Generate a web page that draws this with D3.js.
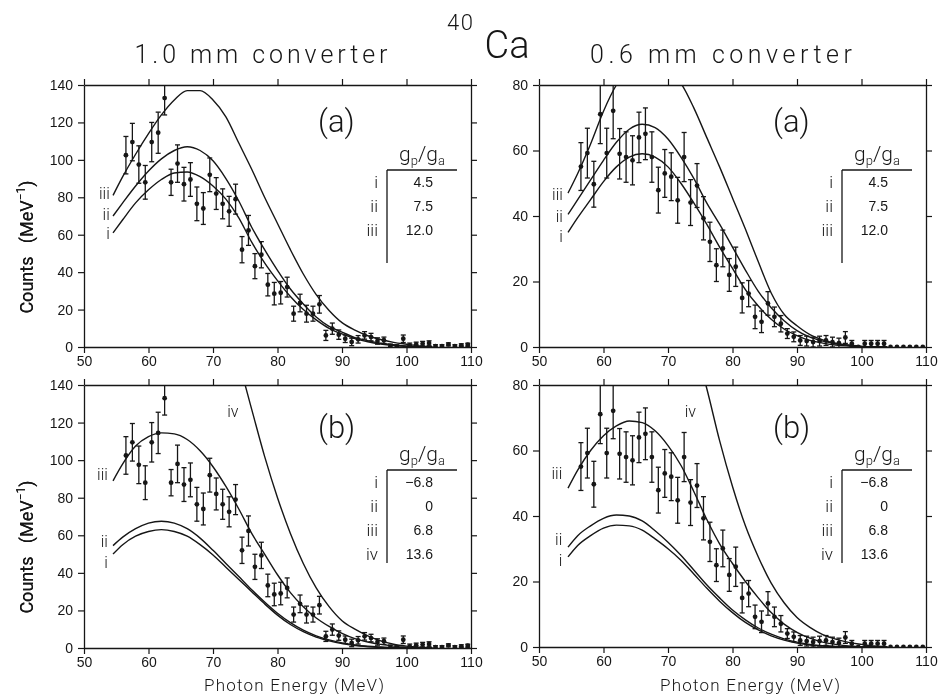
<!DOCTYPE html>
<html><head><meta charset="utf-8">
<script src="https://cdn.jsdelivr.net/npm/d3@7"></script>
<style>body{margin:0;background:#fff;}svg{display:block;filter:grayscale(100%);}</style>
</head><body>
<script>
// ---------- data ----------
const xTicks = [50, 60, 70, 80, 90, 100, 110];
const yTicksWide = [0, 20, 40, 60, 80, 100, 120, 140];
const yTicksNarrow = [0, 20, 40, 60, 80];

// measured bins (MeV)
const binE = [56.5,57.5,58.5,59.5,60.5,61.5,62.5,63.5,64.5,65.5,
  66.5,67.5,68.5,69.5,70.5,71.5,72.5,73.5,74.5,75.5,
  76.5,77.5,78.5,79.5,80.5,81.5,82.5,83.5,84.5,85.5,
  86.5,87.5,88.5,89.5,90.5,91.5,92.5,93.5,94.5,95.5,
  96.5,97.5,98.5,99.5,100.5,101.5,102.5,103.5,104.5,105.5,
  106.5,107.5,108.5,109.5];

// 1.0 mm converter
const counts10 = [102.5,109.5,97.5,88,109.5,114.5,133,88,98,87,
  89.5,76.5,74,92,82,76.5,72.5,79,52,62.3,
  43.2,49.3,33.3,28.5,29,32,17.8,23.5,17.8,17.8,
  22.8,6.2,9.8,6.6,4.4,2.7,4.1,6.2,5.3,3.2,
  3.6,0.4,0,4.4,0.9,1.4,1.8,2.1,0.4,0.4,
  1.4,0.4,0.9,1.2];
const err10 = [10,10,10,9,10.5,11,9,7,10,9,
  9,9,8.5,9,8.5,8,8,8,7,8,
  6.7,7,6,6,6,5.3,4,4.7,4.5,4,
  4.7,2.7,3,2.5,2,2,2,2,2,1.7,
  1.7,1.2,1.2,2,1.2,1.2,1.2,1.2,0.8,0.8,
  0.8,0.8,0.8,0.8];

// 0.6 mm converter
const counts06 = [55.1,59.2,49.7,71.1,59.2,72.1,59,58,57,64,
  65.1,58,47.9,53,52,44.8,58,44.1,49.3,39.3,
  32.1,25,30.1,22,24.5,15,16.3,9.2,7.7,13.3,
  9.2,7.1,4.1,3.1,2,1.8,1.5,1.8,2,1.5,
  1.2,2.9,1,0,1,1,1,1,0,0,
  0,0,0,0];
const err06 = [7.3,7.6,7,9,7.6,8.5,7.7,7.7,7.5,7.7,
  7.9,7.7,7,7.3,7.3,7,7.5,7,6.7,6.6,
  6,5,5.6,5,6,4.6,4,3.6,3.3,3.6,
  3,2.5,1.5,1.5,1.5,1.5,1.5,1.5,1.5,1.5,
  1.5,1.8,1,0,1,1,1,1,0,0,
  0,0,0,0];

// theory curves, sampled at these energies (MeV)
const curveE = [54.5,56,58,60,62,64,66,68,70,72,74,76,78,80,82,84,86,88,90,92,94,96,98,100,102,104];

// 1.0 mm, (a)
const a10_i   = [61,68,77,84,89.5,93,93.5,91,86,79,69,56,45,35.5,27,20,14.5,10,7,4.5,2.8,1.6,0.8,0.3,0.1,0];
const a10_ii  = [70,77,86,94,100.5,105,107,105,99.5,90,78,64,52,41,31,23,16,11,8,5,3.4,2,1.2,0.5,0.2,0];
const a10_iii = [81,91,103,114,124,132,137,137,132,123,109,95,80,66,52,39,28,19.5,13,9,6,4,2.5,1.5,0.6,0.2];
// 0.6 mm, (a)
const a06_i   = [35,39.5,45,50.5,55,58,59,58,55,50,44,37.5,30.5,24,17.5,12.5,8.5,5.5,3.5,2,1.2,0.6,0.3,0.1,0,0];
const a06_ii  = [40.5,45,51,57,62.5,66.5,68,67,63.5,58,51.5,44,37.5,30.5,23.5,17,12,8,5,3,1.8,1,0.5,0.2,0.1,0];
const a06_iii = [47,53,62,72,80,85,87,86,84,80.5,73,64,55,45.5,36,26,16.5,10,6.5,3.8,2.2,1.2,0.6,0.2,0.1,0];
// 1.0 mm, (b)
const b10_i   = [50,55,59.5,62,63,62,59.5,55,49.5,43,36.5,30,23.5,17.5,12.5,8.7,5.8,3.8,2.3,1.3,0.7,0.3,0.1,0,0,0];
const b10_ii  = [54.5,59,63.5,66.5,67.5,66.5,63.5,58.5,52,45,38,31,24.5,18.5,13.5,9.5,6.5,4.3,2.7,1.6,0.9,0.5,0.2,0.1,0,0];
const b10_iii = [89,98,107.5,112.5,114.5,114,111,105,96.5,86,74,61,50,39,29.5,22,16,11.5,7.8,5,3.2,1.9,1,0.4,0.1,0];
const b10_iv  = [150,165,180,192,200,205,205,200,188,172,152,127,102,80,61,45,32,22,14.5,10,6.5,3.8,2,1,0.4,0.1];
// 0.6 mm, (b)
const b06_i   = [27.5,31,34,36.3,37.2,37,35.7,33,30,26.5,22.3,18,14,10.5,7.5,5.2,3.4,2.1,1.2,0.6,0.3,0.1,0,0,0,0];
const b06_ii  = [30.5,34,37,39.3,40.3,40,38.5,35.5,32,28,23.5,19,15,11.3,8.3,5.8,3.9,2.5,1.5,0.8,0.4,0.2,0.1,0,0,0];
const b06_iii = [48.5,54,60,64.5,67.5,69,68.5,66,61.5,55.5,47.5,39,31.5,25.5,20,15,10.5,7,4.5,2.7,1.5,0.8,0.3,0.1,0,0];
const b06_iv  = [95,105,115,122,127,130,130,127,120,109,93,79,63,49,37,27.5,19.5,13.5,9,6,3.8,2.4,1.4,0.8,0.3,0.1];

const numeralsA = ["i", "ii", "iii"];
const ratiosA = ["4.5", "7.5", "12.0"];
const numeralsB = ["i", "ii", "iii", "iv"];
const ratiosB = ["\u22126.8", "0", "6.8", "13.6"];

// ---------- drawing ----------
const W = 938, H = 694;
const lightFont = "Roboto, 'Open Sans', 'DejaVu Sans', sans-serif";
const numFont = "'Liberation Sans', Arial, sans-serif";
const ink = "#161616";

const svg = d3.select("body").append("svg").attr("width", W).attr("height", H);
const defs = svg.append("defs");

const panels = [
  {x0:84, x1:471, y0:85, y1:347, ymax:140, yTicks:yTicksWide, curves:[a10_i,a10_ii,a10_iii],
   counts:counts10, errs:err10, tag:"(a)", tagY:132, numerals:numeralsA, ratios:ratiosA,
   curveLabels:[{t:"iii",e:54,v:79},{t:"ii",e:54,v:68},{t:"i",e:54,v:57.5}]},
  {x0:539, x1:926, y0:85, y1:347, ymax:80, yTicks:yTicksNarrow, curves:[a06_i,a06_ii,a06_iii],
   counts:counts06, errs:err06, tag:"(a)", tagY:132, numerals:numeralsA, ratios:ratiosA,
   curveLabels:[{t:"iii",e:53.7,v:45},{t:"ii",e:53.7,v:38.2},{t:"i",e:53.7,v:32}]},
  {x0:84, x1:471, y0:385, y1:648, ymax:140, yTicks:yTicksWide, curves:[b10_i,b10_ii,b10_iii,b10_iv],
   counts:counts10, errs:err10, tag:"(b)", tagY:438, numerals:numeralsB, ratios:ratiosB,
   curveLabels:[{t:"iii",e:53.7,v:89.4},{t:"ii",e:53.7,v:53.5},{t:"i",e:53.7,v:42.5},{t:"iv",e:72.2,v:123,start:true}]},
  {x0:539, x1:926, y0:385, y1:647, ymax:80, yTicks:yTicksNarrow, curves:[b06_i,b06_ii,b06_iii,b06_iv],
   counts:counts06, errs:err06, tag:"(b)", tagY:438, numerals:numeralsB, ratios:ratiosB,
   curveLabels:[{t:"iii",e:53.6,v:51.3},{t:"ii",e:53.6,v:31},{t:"i",e:53.6,v:24.6},{t:"iv",e:72.6,v:70.2,start:true}]}
];

function styleAxis(sel, showText) {
  sel.select(".domain").attr("stroke", ink).attr("stroke-width", 1.3);
  sel.selectAll(".tick line").attr("stroke", ink).attr("stroke-width", 1.2);
  sel.selectAll(".tick text").attr("fill", ink).attr("font-family", numFont)
     .attr("font-size", 14).style("display", showText ? null : "none");
}

panels.forEach((p, pi) => {
  const x = d3.scaleLinear().domain([50, 110]).range([p.x0, p.x1]);
  const y = d3.scaleLinear().domain([0, p.ymax]).range([p.y1, p.y0]);
  const cid = "clip" + pi;
  defs.append("clipPath").attr("id", cid).append("rect")
    .attr("x", p.x0).attr("y", p.y0).attr("width", p.x1 - p.x0).attr("height", p.y1 - p.y0);

  const g = svg.append("g");
  g.append("g").attr("transform", `translate(0,${p.y1})`)
    .call(d3.axisBottom(x).tickValues(xTicks).tickSize(6).tickSizeOuter(0).tickPadding(3).tickFormat(d3.format("d")))
    .call(s => styleAxis(s, true));
  g.append("g").attr("transform", `translate(0,${p.y0})`)
    .call(d3.axisTop(x).tickValues(xTicks).tickSize(6).tickSizeOuter(0))
    .call(s => styleAxis(s, false));
  g.append("g").attr("transform", `translate(${p.x0},0)`)
    .call(d3.axisLeft(y).tickValues(p.yTicks).tickSize(6).tickSizeOuter(0).tickPadding(5).tickFormat(d3.format("d")))
    .call(s => styleAxis(s, true));
  g.append("g").attr("transform", `translate(${p.x1},0)`)
    .call(d3.axisRight(y).tickValues(p.yTicks).tickSize(6).tickSizeOuter(0))
    .call(s => styleAxis(s, false));

  const plot = g.append("g").attr("clip-path", `url(#${cid})`);
  const line = d3.line().x((d, i) => x(curveE[i])).y(d => y(d)).curve(d3.curveMonotoneX);
  p.curves.forEach(c => {
    plot.append("path").datum(c).attr("d", line)
      .attr("fill", "none").attr("stroke", ink).attr("stroke-width", 1.4);
  });

  const pts = binE.map((e, i) => ({e, v: p.counts[i], s: p.errs[i]}));
  const eb = plot.append("g").attr("stroke", ink).attr("stroke-width", 1.3);
  pts.filter(d => d.s > 0).forEach(d => {
    eb.append("line").attr("x1", x(d.e)).attr("x2", x(d.e)).attr("y1", y(d.v - d.s)).attr("y2", y(d.v + d.s));
    eb.append("line").attr("x1", x(d.e) - 2.5).attr("x2", x(d.e) + 2.5).attr("y1", y(d.v - d.s)).attr("y2", y(d.v - d.s));
    eb.append("line").attr("x1", x(d.e) - 2.5).attr("x2", x(d.e) + 2.5).attr("y1", y(d.v + d.s)).attr("y2", y(d.v + d.s));
  });
  plot.append("g").selectAll("circle").data(pts).join("circle")
    .attr("cx", d => x(d.e)).attr("cy", d => y(d.v)).attr("r", 2.4).attr("fill", ink);

  // curve labels
  p.curveLabels.forEach(l => {
    g.append("text").attr("x", x(l.e)).attr("y", y(l.v))
      .attr("text-anchor", l.start ? "start" : "end")
      .attr("font-family", lightFont).attr("font-weight", 300).attr("font-size", 16).attr("fill", ink)
      .text(l.t);
  });

  // panel tag
  g.append("text").attr("x", p.x0 + 234).attr("y", p.tagY)
    .attr("font-family", lightFont).attr("font-weight", 300).attr("font-size", 31).attr("fill", ink)
    .text(p.tag);

  // legend table
  const lx = p.x0 + 303, ly = p.y0 + 85;
  const gl = g.append("g");
  const gt = gl.append("text").attr("x", lx + 12).attr("y", ly - 9)
    .attr("font-family", lightFont).attr("font-weight", 300).attr("font-size", 21).attr("fill", ink);
  gt.append("tspan").text("g");
  gt.append("tspan").attr("font-size", 13).attr("dy", 4).text("p");
  gt.append("tspan").attr("dy", -4).text("/g");
  gt.append("tspan").attr("font-size", 13).attr("dy", 4).text("a");
  gl.append("line").attr("x1", lx).attr("x2", lx + 70).attr("y1", ly).attr("y2", ly)
    .attr("stroke", ink).attr("stroke-width", 1.3);
  gl.append("line").attr("x1", lx).attr("x2", lx).attr("y1", ly).attr("y2", ly + 93)
    .attr("stroke", ink).attr("stroke-width", 1.3);
  p.numerals.forEach((n, i) => {
    const yy = ly + 18 + i * 24;
    gl.append("text").attr("x", lx - 9).attr("y", yy).attr("text-anchor", "end")
      .attr("font-family", lightFont).attr("font-weight", 300).attr("font-size", 17).attr("fill", ink).text(n);
    gl.append("text").attr("x", lx + 46).attr("y", yy - 1).attr("text-anchor", "end")
      .attr("font-family", numFont).attr("font-size", 14).attr("fill", ink).text(p.ratios[i]);
  });

  // y axis title
  const yt = g.append("text")
    .attr("transform", `translate(33,${p.y0 + 162}) rotate(-90)`)
    .attr("text-anchor", "middle").attr("font-family", lightFont).attr("font-weight", 400)
    .attr("font-size", 18).attr("fill", ink);
  yt.append("tspan").text("Counts\u00a0\u00a0 (MeV");
  yt.append("tspan").attr("font-size", 12).attr("dy", -8).text("\u22121");
  yt.append("tspan").attr("dy", 8).text(")");
});

// titles
function title(txt, xMid, yBase, size, len) {
  const t = svg.append("text").attr("x", xMid).attr("y", yBase).attr("text-anchor", "middle")
    .attr("font-family", lightFont).attr("font-weight", 300).attr("font-size", size).attr("fill", ink).text(txt);
  if (len) t.attr("textLength", len).attr("lengthAdjust", "spacing");
  return t;
}
title("1.0  mm  converter", 261, 63, 25, 253);
title("0.6  mm  converter", 721, 63, 25, 262);
title("40", 460, 30, 22, 26);
title("Ca", 507, 58, 38);
title("Photon  Energy   (MeV)", 294, 691, 17, 180);
title("Photon  Energy   (MeV)", 750, 691, 17, 180);
</script>
</body></html>
